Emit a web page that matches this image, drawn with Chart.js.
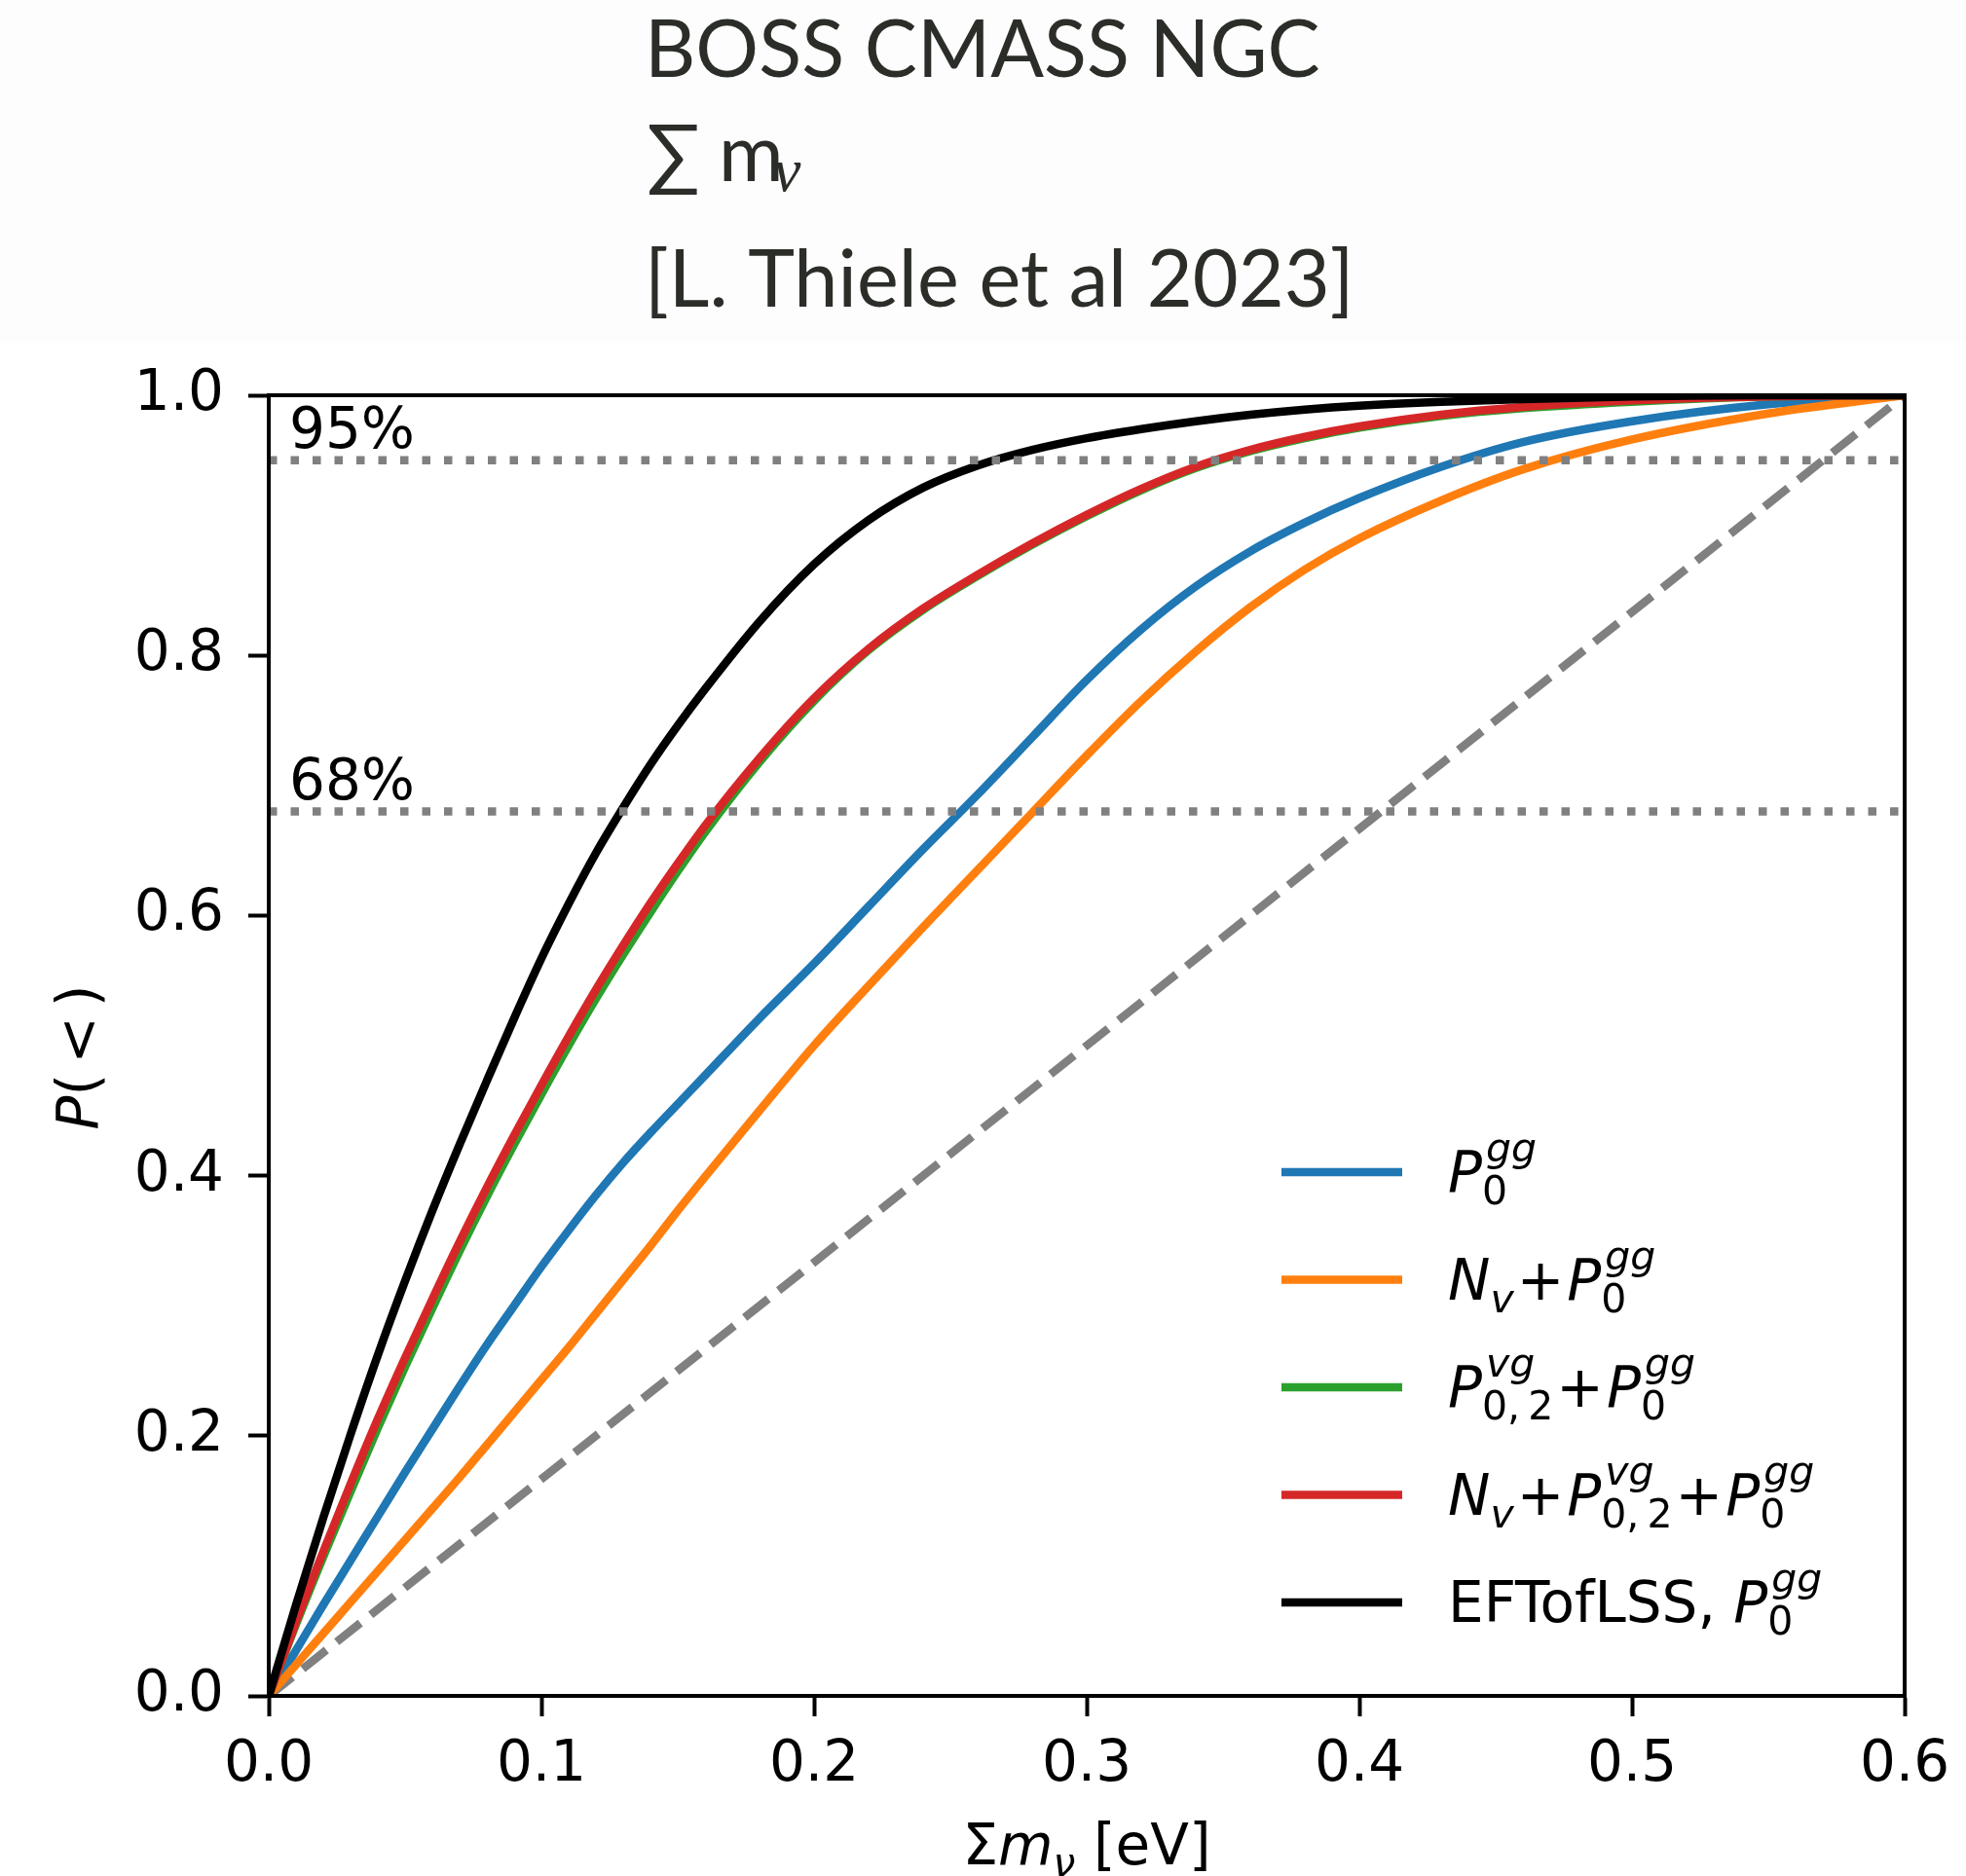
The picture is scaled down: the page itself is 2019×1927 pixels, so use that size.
<!DOCTYPE html>
<html>
<head>
<meta charset="utf-8">
<title>BOSS CMASS NGC – sum of neutrino masses</title>
<script src="https://cdn.jsdelivr.net/npm/chart.js@4.4.1/dist/chart.umd.min.js"></script>
<style>
  html, body { margin: 0; padding: 0; background: #ffffff; }
  #wrap { position: relative; width: 2019px; height: 1927px; overflow: hidden; }
  canvas { position: absolute; left: 0; top: 0; }
</style>
</head>
<body>
<div id="wrap"><canvas id="cdf" width="2019" height="1927"></canvas></div>
<script>
// Sum of neutrino masses [eV] at which the cumulative posteriors are sampled
const massGrid = [0, 0.01, 0.02, 0.03, 0.04, 0.05, 0.06, 0.07, 0.08, 0.09,
                  0.10, 0.11, 0.12, 0.13, 0.14, 0.15, 0.16, 0.18, 0.20, 0.22,
                  0.24, 0.26, 0.28, 0.30, 0.32, 0.34, 0.36, 0.38, 0.40, 0.43,
                  0.46, 0.50, 0.55, 0.60];

// Cumulative probability P(<) for each analysis
const cdfP0 = [0, 0.035, 0.070, 0.104, 0.138, 0.172, 0.205, 0.238, 0.270, 0.300,
               0.330, 0.358, 0.385, 0.410, 0.433, 0.455, 0.477, 0.521, 0.563, 0.607,
               0.651, 0.693, 0.737, 0.781, 0.820, 0.853, 0.880, 0.902, 0.921, 0.945,
               0.964, 0.980, 0.993, 1.000];
const cdfNvP0 = [0, 0.024, 0.048, 0.072, 0.096, 0.120, 0.144, 0.168, 0.193, 0.218,
                 0.243, 0.268, 0.294, 0.320, 0.346, 0.373, 0.399, 0.450, 0.500, 0.546,
                 0.591, 0.635, 0.679, 0.723, 0.765, 0.803, 0.837, 0.866, 0.890, 0.919,
                 0.943, 0.966, 0.986, 1.000];
const cdfPvgP0 = [0, 0.055, 0.107, 0.157, 0.206, 0.253, 0.298, 0.342, 0.384, 0.424,
                  0.4625, 0.500, 0.536, 0.570, 0.6025, 0.634, 0.664, 0.718, 0.765, 0.804,
                  0.835, 0.861, 0.885, 0.907, 0.927, 0.944, 0.957, 0.967, 0.975, 0.984,
                  0.990, 0.995, 0.999, 1.000];
const cdfNvPvgP0 = [0, 0.057, 0.111, 0.163, 0.213, 0.260, 0.305, 0.349, 0.391, 0.431,
                    0.4695, 0.507, 0.543, 0.577, 0.6095, 0.640, 0.669, 0.721, 0.767, 0.805,
                    0.836, 0.862, 0.886, 0.908, 0.928, 0.945, 0.958, 0.968, 0.976, 0.985,
                    0.991, 0.996, 0.999, 1.000];
const cdfEFT = [0, 0.070, 0.137, 0.201, 0.262, 0.319, 0.373, 0.424, 0.473, 0.521,
                0.567, 0.609, 0.648, 0.683, 0.716, 0.746, 0.774, 0.826, 0.870, 0.904,
                0.929, 0.946, 0.958, 0.967, 0.974, 0.980, 0.985, 0.989, 0.992, 0.995,
                0.997, 0.999, 1.000, 1.000];

// Reference diagonal
const diagX = [0, 0.6];
const diagY = [0, 1];

// Credible-interval levels
const levelValues = [0.95, 0.68];
const levelLabels = ['95%', '68%'];

// Axis ticks
const xTicks = [0, 0.1, 0.2, 0.3, 0.4, 0.5, 0.6];
const yTicks = [0, 0.2, 0.4, 0.6, 0.8, 1.0];

// Series names and colours
const seriesNames = ['P0gg', 'Nv+P0gg', 'P02vg+P0gg', 'Nv+P02vg+P0gg', 'EFTofLSS, P0gg'];
const seriesColors = ['#1f77b4', '#ff7f0e', '#2ca02c', '#d62728', '#000000'];
const seriesValues = [cdfP0, cdfNvP0, cdfPvgP0, cdfNvPvgP0, cdfEFT];

// Mathtext-like legend labels: tokens with optional sub/superscripts
const P0gg  = { t: 'P', i: true, sub: '0', sup: 'gg', supI: true };
const P02vg = { t: 'P', i: true, sub: '0,\u20092', sup: 'vg', supI: true };
const Nv    = { t: 'N', i: true, sub: 'v', subI: true };
const PLUS  = { t: '+', gap: 3 };
const legendTokens = [
  [P0gg],
  [Nv, PLUS, P0gg],
  [P02vg, PLUS, P0gg],
  [Nv, PLUS, P02vg, PLUS, P0gg],
  [{ t: 'EFTofLSS, ' }, P0gg]
];

const toPoints = (xs, ys) => xs.map((x, k) => ({ x: x, y: ys[k] }));

const FS = 58;                   // main font size
const SS = Math.round(FS * 0.7); // script size
const SUB_DY = 13, SUP_DY = -31, SUP_DX = 4;
const fontOf = (size, italic) => (italic ? 'italic ' : '') + size + 'px "DejaVu Sans"';

function drawMath(ctx, x, y, toks) {
  for (const k of toks) {
    if (k.gap) x += k.gap;
    ctx.font = fontOf(FS, k.i);
    ctx.fillText(k.t, x, y);
    x += ctx.measureText(k.t).width;
    let end = x;
    if (k.sub) {
      ctx.font = fontOf(SS, k.subI);
      ctx.fillText(k.sub, x, y + SUB_DY);
      end = Math.max(end, x + ctx.measureText(k.sub).width);
    }
    if (k.sup) {
      ctx.font = fontOf(SS, k.supI);
      ctx.fillText(k.sup, x + SUP_DX, y + SUP_DY);
      end = Math.max(end, x + SUP_DX + ctx.measureText(k.sup).width);
    }
    x = end;
    if (k.gap) x += k.gap;
  }
  return x;
}

function measureRun(ctx, segs) {
  let w = 0;
  for (const s of segs) {
    ctx.font = fontOf(s.sub ? SS : FS, s.i);
    w += ctx.measureText(s.t).width + (s.pad || 0) * 2;
  }
  return w;
}
function drawRun(ctx, x, y, segs) {
  for (const s of segs) {
    x += s.pad || 0;
    ctx.font = fontOf(s.sub ? SS : FS, s.i);
    ctx.fillText(s.t, x, y + (s.sub ? 12 : 0));
    x += ctx.measureText(s.t).width + (s.pad || 0);
  }
}

// Header block above the axes
const headerPlugin = {
  id: 'header',
  beforeDraw(chart) {
    const ctx = chart.ctx;
    ctx.save();
    ctx.fillStyle = '#fdfdfd';
    ctx.fillRect(0, 0, chart.width, 352);
    ctx.fillStyle = '#2b2e28';
    ctx.textBaseline = 'alphabetic';
    ctx.textAlign = 'left';
    ctx.font = '81px Lato';
    ctx.fillText('BOSS CMASS NGC', 662, 79);
    ctx.fillText('\u2211', 664, 186);
    ctx.fillText('m', 738, 186);
    ctx.font = 'italic 64px "Liberation Serif"';
    ctx.fillText('\u03BD', 794, 196);
    ctx.font = '81px Lato';
    ctx.fillText('[L. Thiele et al 2023]', 662, 315);
    ctx.restore();
  }
};

// Frame, level labels, axis titles and legend
const decorPlugin = {
  id: 'decor',
  afterDatasetsDraw(chart) {
    const { ctx, chartArea: a } = chart;
    ctx.save();
    ctx.strokeStyle = '#000';
    ctx.lineWidth = 4;
    ctx.strokeRect(a.left, a.top, a.right - a.left, a.bottom - a.top);
    ctx.restore();
  },
  afterDraw(chart) {
    const { ctx, chartArea: a, scales } = chart;
    const xs = scales.x, ys = scales.y;
    ctx.save();
    ctx.fillStyle = '#000';
    ctx.textBaseline = 'alphabetic';
    ctx.textAlign = 'left';

    // level annotations
    ctx.font = fontOf(FS, false);
    levelValues.forEach((v, k) => {
      ctx.fillText(levelLabels[k], xs.getPixelForValue(0.0075), ys.getPixelForValue(v + 0.0095));
    });

    // y-axis title  P(<)
    const ySegs = [{ t: 'P', i: true }, { t: '(' }, { t: '<', pad: 10 }, { t: ')' }];
    ctx.save();
    ctx.translate(100, (a.top + a.bottom) / 2 + 12);
    ctx.rotate(-Math.PI / 2);
    drawRun(ctx, -measureRun(ctx, ySegs) / 2, 0, ySegs);
    ctx.restore();

    // x-axis title  Σm_ν [eV]
    const xSegs = [{ t: '\u03A3' }, { t: 'm', i: true }, { t: '\u03BD', i: true, sub: true }, { t: ' [eV]' }];
    drawRun(ctx, (a.left + a.right) / 2 - measureRun(ctx, xSegs) / 2, 1915, xSegs);

    // legend
    const rowY0 = 1204, rowStep = 110.5;
    chart.data.datasets.forEach((ds, k) => {
      if (k >= legendTokens.length) return;
      const y = rowY0 + k * rowStep;
      ctx.strokeStyle = ds.borderColor;
      ctx.lineWidth = 8.5;
      ctx.lineCap = 'butt';
      ctx.beginPath();
      ctx.moveTo(1316, y);
      ctx.lineTo(1440, y);
      ctx.stroke();
      ctx.fillStyle = '#000';
      drawMath(ctx, 1487, y + 20, legendTokens[k]);
    });
    ctx.restore();
  }
};

const curveSets = seriesValues.map((vals, k) => ({
  label: seriesNames[k],
  data: toPoints(massGrid, vals),
  borderColor: seriesColors[k],
  backgroundColor: seriesColors[k],
  borderWidth: 8.5,
  pointRadius: 0,
  fill: false,
  cubicInterpolationMode: 'monotone',
  order: 6 - k
}));

const levelSets = levelValues.map(v => ({
  label: 'level ' + v,
  data: toPoints(diagX, [v, v]),
  borderColor: '#808080',
  borderWidth: 8.5,
  borderDash: [8.5, 14],
  borderCapStyle: 'butt',
  pointRadius: 0,
  fill: false,
  order: 0
}));

const diagSet = {
  label: 'diagonal',
  data: toPoints(diagX, diagY),
  borderColor: '#808080',
  borderWidth: 8.5,
  borderDash: [31, 13.6],
  borderCapStyle: 'butt',
  pointRadius: 0,
  fill: false,
  order: 7
};

new Chart(document.getElementById('cdf'), {
  type: 'line',
  data: { datasets: [...curveSets, diagSet, ...levelSets] },
  plugins: [headerPlugin, decorPlugin],
  options: {
    responsive: false,
    animation: false,
    devicePixelRatio: 1,
    layout: { padding: { left: 0, right: 63, top: 406, bottom: 65 } },
    plugins: { legend: { display: false }, tooltip: { enabled: false }, title: { display: false } },
    scales: {
      x: {
        type: 'linear', min: 0, max: 0.6,
        afterBuildTicks: s => { s.ticks = xTicks.map(v => ({ value: v })); },
        afterFit: s => { s.height = 120; },
        ticks: {
          callback: v => Number(v).toFixed(1),
          font: { family: 'DejaVu Sans', size: FS }, color: '#000',
          padding: 16, maxRotation: 0, autoSkip: false
        },
        grid: { drawOnChartArea: false, drawTicks: true, tickLength: 21, tickWidth: 4, tickColor: '#000' },
        border: { display: true, color: '#000', width: 4 }
      },
      y: {
        type: 'linear', min: 0, max: 1,
        afterBuildTicks: s => { s.ticks = yTicks.map(v => ({ value: v })); },
        afterFit: s => { s.width = 276; },
        ticks: {
          callback: v => Number(v).toFixed(1),
          font: { family: 'DejaVu Sans', size: FS }, color: '#000',
          padding: 25, autoSkip: false
        },
        grid: { drawOnChartArea: false, drawTicks: true, tickLength: 21, tickWidth: 4, tickColor: '#000' },
        border: { display: true, color: '#000', width: 4 }
      }
    }
  }
});
</script>
</body>
</html>
